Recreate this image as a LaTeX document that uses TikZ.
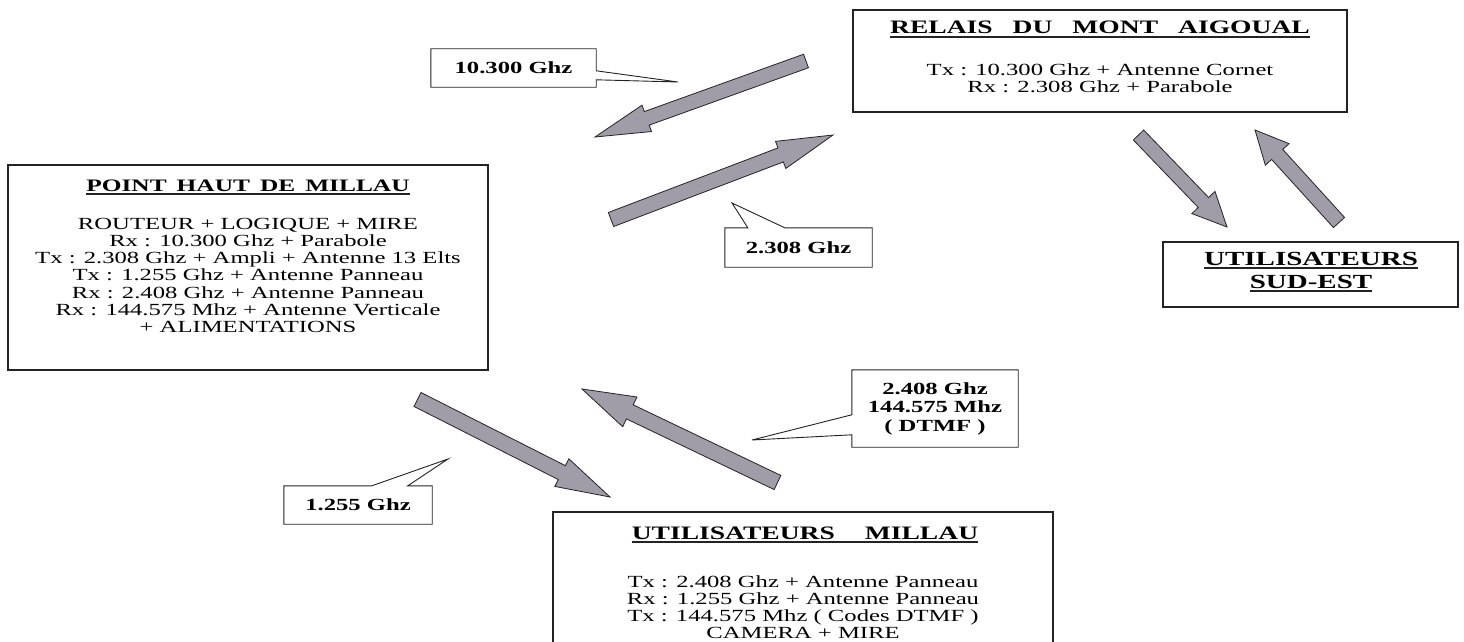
\documentclass[tikz,border=0pt]{standalone}
\usepackage{fontspec}
\setmainfont[FakeStretch=1.45]{Liberation Serif}
\usetikzlibrary{calc}
\definecolor{arrgray}{RGB}{160,157,168}
\definecolor{edgec}{RGB}{35,35,35}
\tikzset{
  box/.style={draw=edgec, line width=1.3pt, fill=white, inner sep=0pt},
  ttl/.style={anchor=base, inner sep=0pt, font=\fontsize{19}{21}\selectfont\bfseries},
  ln/.style={anchor=base, inner sep=0pt, font=\fontsize{17}{17}\selectfont},
  lab/.style={inner sep=0pt, font=\fontsize{17}{18.5}\selectfont\bfseries, align=center},
  callout/.style={draw=edgec, line width=0.9pt, fill=white, line join=miter},
  blockarrow/.style={draw=edgec, line width=0.8pt, fill=arrgray, line join=miter},
  uline/.style={line width=1.5pt, edgec},
}
\newcommand{\blockarr}[5]{%
  \path ($(#2)!#5!(#1)$) coordinate (hb);
  \draw[blockarrow] ($(#1)!#3!90:(#2)$) -- ($(hb)!#3!-90:(#1)$) -- ($(hb)!#4!-90:(#1)$) -- (#2)
     -- ($(hb)!#4!90:(#1)$) -- ($(hb)!#3!90:(#1)$) -- ($(#1)!#3!-90:(#2)$) -- cycle;
}
\begin{document}
\begin{tikzpicture}[x=1pt,y=-1pt]
\useasboundingbox (0,0) rectangle (1464,642);
\clip (0,0) rectangle (1464,642);
\fill[white] (0,0) rectangle (1464,642);

% ---------- boxes ----------
\node[box, minimum width=494pt, minimum height=102pt] (rel) at (1100,61) {};
\node[box, minimum width=480pt, minimum height=205pt] (ph) at (248,267.5) {};
\node[box, minimum width=295pt, minimum height=65pt] (se) at (1310.5,274.5) {};
\node[box, minimum width=500pt, minimum height=168pt] (um) at (803,596) {};

% relais
\node[ttl] (relt) at (1100,34) {RELAIS\hspace{20pt}DU\hspace{20pt}MONT\hspace{20pt}AIGOUAL};
\draw[uline] ($(relt.base west)+(0,3)$) -- ($(relt.base east)+(0,3)$);
\node[ln] (rel1) at (1100,75) {Tx : 10.300 Ghz + Antenne Cornet};
\node[ln] (rel2) at (1100,92.5) {Rx : 2.308 Ghz + Parabole};

% point haut
\node[ttl, font=\fontsize{17.5}{20}\selectfont\bfseries] (pht) at (248,191) {POINT\hspace{10pt}HAUT\hspace{10pt}DE\hspace{10pt}MILLAU};
\draw[uline] ($(pht.base west)+(0,3)$) -- ($(pht.base east)+(0,3)$);
\foreach \t [count=\i] in {{ROUTEUR + LOGIQUE + MIRE},{Rx : 10.300 Ghz + Parabole},
  {Tx : 2.308 Ghz + Ampli + Antenne 13 Elts},{Tx : 1.255 Ghz + Antenne Panneau},
  {Rx : 2.408 Ghz + Antenne Panneau},{Rx : 144.575 Mhz + Antenne Verticale},
  {+ ALIMENTATIONS}}
  \node[ln] (ph\i) at (248,{229+17.3*(\i-1)}) {\t};

% sud-est
\node[ttl, font=\fontsize{20}{22}\selectfont\bfseries] (se1) at (1311,265) {UTILISATEURS};
\draw[uline] ($(se1.base west)+(0,3)$) -- ($(se1.base east)+(0,3)$);
\node[ttl, font=\fontsize{20}{22}\selectfont\bfseries] (se2) at (1311,288) {SUD-EST};
\draw[uline] ($(se2.base west)+(0,3)$) -- ($(se2.base east)+(0,3)$);

% utilisateurs millau
\node[ttl] (umt) at (805,539) {UTILISATEURS\hspace{30pt}MILLAU};
\draw[uline] ($(umt.base west)+(0,3)$) -- ($(umt.base east)+(0,3)$);
\foreach \t [count=\i] in {{Tx : 2.408 Ghz + Antenne Panneau},{Rx : 1.255 Ghz + Antenne Panneau},
  {Tx : 144.575 Mhz ( Codes DTMF )},{CAMERA + MIRE}}
  \node[ln] (um\i) at (803,{587+17.2*(\i-1)}) {\t};

% ---------- block arrows ----------
\coordinate (a1t) at (806,61);    \coordinate (a1p) at (595,137);
\coordinate (a2t) at (611,219.5); \coordinate (a2p) at (833,135);
\coordinate (a3t) at (1138.5,135);\coordinate (a3p) at (1227,227);
\coordinate (a4t) at (1339,222.5);\coordinate (a4p) at (1255,130);
\coordinate (a5t) at (417.5,399.5);\coordinate (a5p) at (610,497);
\coordinate (a6t) at (777.5,482.5);\coordinate (a6p) at (582,389);
\blockarr{a1t}{a1p}{7.2pt}{14pt}{55pt}
\blockarr{a2t}{a2p}{7.5pt}{14.5pt}{56pt}
\blockarr{a3t}{a3p}{7.2pt}{16pt}{34pt}
\blockarr{a4t}{a4p}{7.5pt}{16pt}{33pt}
\blockarr{a5t}{a5p}{7.8pt}{15.5pt}{54pt}
\blockarr{a6t}{a6p}{7.8pt}{16.5pt}{53pt}

% ---------- callouts ----------
\coordinate (t1) at (678,82);
\coordinate (t2) at (732,203);
\coordinate (t3) at (448,459);
\coordinate (t4) at (752,440);
\node[minimum width=165pt, minimum height=38pt, inner sep=0pt] (c1) at (513.5,68) {};
\draw[callout] (c1.north west) -- (c1.north east) -- ($(c1.north east)+(0,22)$) -- (t1)
  -- ($(c1.north east)+(0,31)$) -- (c1.south east) -- (c1.south west) -- cycle;
\node[lab] (c1l) at (c1.center) {10.300 Ghz};

\node[minimum width=147pt, minimum height=39pt, inner sep=0pt] (c2) at (798.5,247.5) {};
\draw[callout] (c2.north west) -- ($(c2.north west)+(23,0)$) -- (t2) -- ($(c2.north west)+(60,0)$)
  -- (c2.north east) -- (c2.south east) -- (c2.south west) -- cycle;
\node[lab] (c2l) at (c2.center) {2.308 Ghz};

\node[minimum width=148pt, minimum height=38pt, inner sep=0pt] (c3) at (358,505) {};
\draw[callout] (c3.north west) -- ($(c3.north west)+(88,0)$) -- (t3) -- ($(c3.north west)+(124,0)$)
  -- (c3.north east) -- (c3.south east) -- (c3.south west) -- cycle;
\node[lab] (c3l) at (c3.center) {1.255 Ghz};

\node[minimum width=166pt, minimum height=77pt, inner sep=0pt] (c4) at (935,408.5) {};
\draw[callout] (c4.north west) -- (c4.north east) -- (c4.south east) -- (c4.south west)
  -- ($(c4.north west)+(0,65)$) -- (t4) -- ($(c4.north west)+(0,45)$) -- cycle;
\node[lab] (c4l) at (c4.center) {2.408 Ghz\\144.575 Mhz\\( DTMF )};
\end{tikzpicture}
\end{document}
